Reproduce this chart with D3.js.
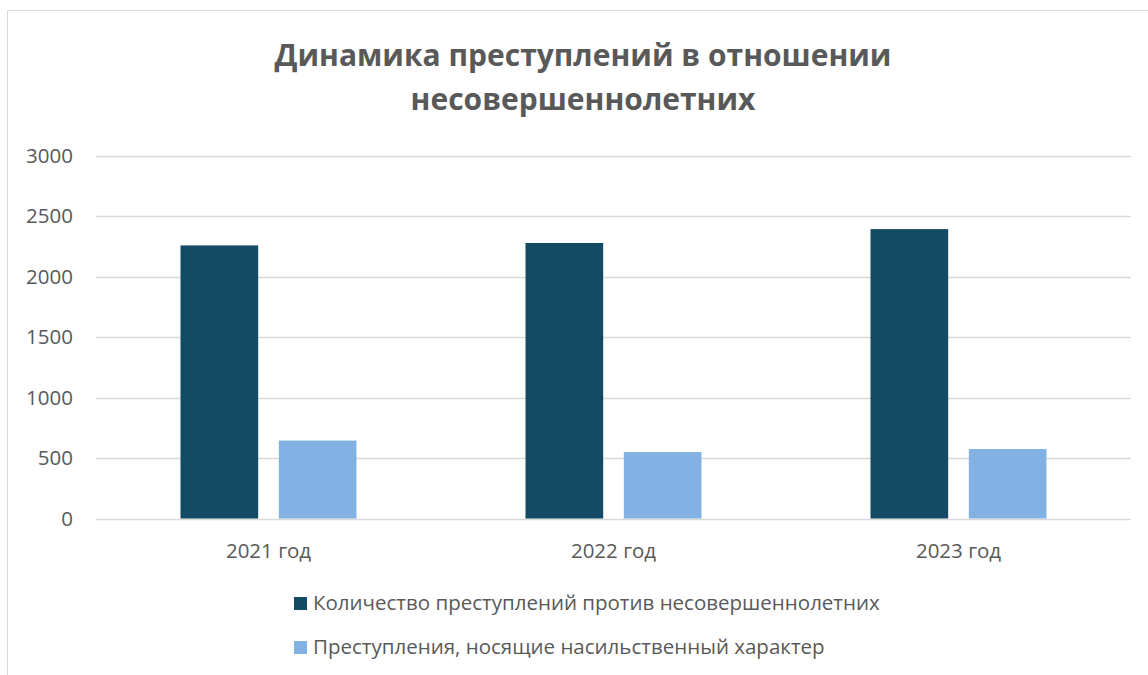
<!DOCTYPE html>
<html>
<head>
<meta charset="utf-8">
<script src="https://cdn.jsdelivr.net/npm/d3@7"></script>
<style>
  body { margin: 0; background: #fff; }
  svg { display: block; font-family: "Open Sans", "Liberation Sans", sans-serif; }
</style>
</head>
<body>
<div id="chart"></div>
<script>
const width = 1148;
const height = 675;

// Data
const categories = ["2021 год", "2022 год", "2023 год"];
const seriesNames = [
    "Количество преступлений против несовершеннолетних",
    "Преступления, носящие насильственный характер"
];
const totalCrimes = [2260, 2280, 2395];
const violentCrimes = [645, 550, 575];
const yTicks = [0, 500, 1000, 1500, 2000, 2500, 3000];
const titleLines = ["Динамика преступлений в отношении", "несовершеннолетних"];

const colors = ["#134a64", "#84b1e4"];
const textColor = "#595959";
const labelSize = 20.5;

const svg = d3.select("#chart")
    .append("svg")
    .attr("width", width)
    .attr("height", height);

// chart frame (runs past right/bottom edge of the picture)
svg.append("rect")
    .attr("x", 7.5)
    .attr("y", 10.5)
    .attr("width", 1160)
    .attr("height", 700)
    .attr("fill", "#fff")
    .attr("stroke", "#d9d9d9");

const plot = { left: 96, right: 1131, top: 156, bottom: 518.5 };

const x0 = d3.scaleBand()
    .domain(categories)
    .range([plot.left, plot.right])
    .padding(0);

const groupWidth = 176;
const x1 = d3.scaleBand()
    .domain([0, 1])
    .range([0, groupWidth])
    .paddingInner(0.21)
    .paddingOuter(0);

const y = d3.scaleLinear()
    .domain([0, 3000])
    .range([plot.bottom, plot.top]);

// gridlines
svg.append("g")
    .selectAll("line")
    .data(yTicks)
    .join("line")
    .attr("x1", plot.left)
    .attr("x2", plot.right)
    .attr("y1", d => Math.round(y(d)) + 0.5)
    .attr("y2", d => Math.round(y(d)) + 0.5)
    .attr("stroke", "#d9d9d9")
    .attr("stroke-width", 1.3);

// y axis labels
const yAxis = svg.append("g")
    .attr("transform", `translate(${plot.left - 23},0)`)
    .call(d3.axisLeft(y).tickValues(yTicks).tickSize(0).tickPadding(0).tickFormat(d3.format("d")));
yAxis.select(".domain").remove();
yAxis.selectAll("text")
    .attr("fill", textColor)
    .attr("font-size", labelSize)
    .attr("font-family", "Open Sans, sans-serif");

// bars
const rows = categories.map((c, i) => ({ cat: c, values: [totalCrimes[i], violentCrimes[i]] }));
const groups = svg.append("g")
    .selectAll("g")
    .data(rows)
    .join("g")
    .attr("transform", d => `translate(${x0(d.cat) + (x0.bandwidth() - groupWidth) / 2},0)`);

groups.selectAll("rect")
    .data(d => d.values.map((v, j) => ({ v, j })))
    .join("rect")
    .attr("x", d => x1(d.j))
    .attr("width", x1.bandwidth())
    .attr("y", d => y(d.v))
    .attr("height", d => y(0) - y(d.v))
    .attr("fill", d => colors[d.j]);

// x axis labels
const xAxis = svg.append("g")
    .attr("transform", `translate(0,${plot.bottom})`)
    .call(d3.axisBottom(x0).tickSize(0).tickPadding(25));
xAxis.select(".domain").remove();
xAxis.selectAll("text")
    .attr("fill", textColor)
    .attr("font-size", labelSize)
    .attr("font-family", "Open Sans, sans-serif");

// title
svg.append("g")
    .selectAll("text")
    .data(titleLines)
    .join("text")
    .attr("x", 583)
    .attr("y", (d, i) => 66 + i * 44)
    .attr("text-anchor", "middle")
    .attr("fill", textColor)
    .attr("font-size", 30)
    .attr("font-weight", "bold")
    .text(d => d);

// legend
const legend = svg.append("g")
    .selectAll("g")
    .data(seriesNames)
    .join("g")
    .attr("transform", (d, i) => `translate(294,${597 + i * 44})`);

legend.append("rect")
    .attr("width", 13)
    .attr("height", 13)
    .attr("fill", (d, i) => colors[i]);

legend.append("text")
    .attr("x", 19)
    .attr("y", 13)
    .attr("fill", textColor)
    .attr("font-size", labelSize)
    .text(d => d);
</script>
</body>
</html>
